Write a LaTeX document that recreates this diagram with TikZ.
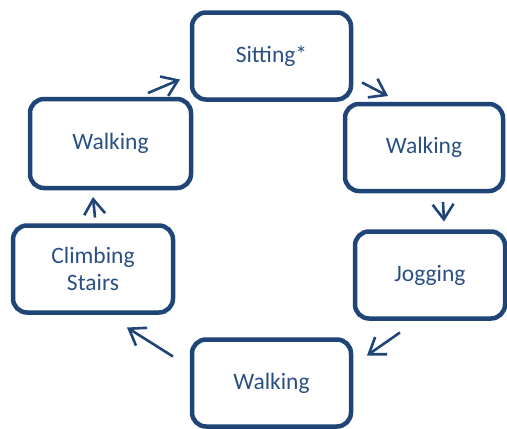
\documentclass[tikz,border=0pt]{standalone}
\usepackage{fontspec}
\setmainfont{Carlito}
\usetikzlibrary{arrows.meta}
\definecolor{boxblue}{RGB}{31,68,118}
\definecolor{txtblue}{RGB}{42,80,130}

\begin{document}
\begin{tikzpicture}[x=1pt, y=-1pt, >={Straight Barb[length=15pt, width=21pt]},
  act/.style={draw=boxblue, line width=4.5pt, rounded corners=14pt, outer sep=0pt,
    minimum width=159pt, minimum height=87pt, align=center, text=txtblue,
    font=\fontsize{23.5}{27}\selectfont},
  flow/.style={->, draw=boxblue, line width=2.6pt}]
  \useasboundingbox (0,0) rectangle (507,429);
  % ------------------------------------------------------------------ the activities, clockwise from the top
  \node[act] (sit) at (271.5,56) {Sitting*};
  \node[act, minimum width=158pt] (wr) at (424,147.5) {Walking};
  \node[act, minimum width=150pt] (jog) at (430,275) {Jogging};
  \node[act] (wb) at (271.5,383) {Walking};
  \node[act, minimum width=160pt] (cs) at (93,269) {Climbing\\Stairs};
  \node[act, minimum width=161pt, minimum height=89pt] (wl) at (110.5,143.5) {Walking};
  % ------------------------------------------------------------------ the cycle
  \draw[flow] ([shift={(-43,-6)}]wl.north east) -- ([shift={(-12,-20)}]sit.south west);
  \draw[flow] ([shift={(11,-17)}]sit.south east) -- ([shift={(43,-8)}]wr.north west);
  \draw[flow] ([shift={(19,11)}]wr.south) -- ([shift={(14,-10)}]jog.north);
  \draw[flow] ([shift={(45,14)}]jog.south west) -- ([shift={(16,16)}]wb.north east);
  \draw[flow] ([shift={(-19,17)}]wb.north west) -- ([shift={(-46,15)}]cs.south east);
  \draw[flow] ([shift={(2,-8)}]cs.north) -- ([shift={(-17.5,9)}]wl.south);
\end{tikzpicture}
\end{document}
